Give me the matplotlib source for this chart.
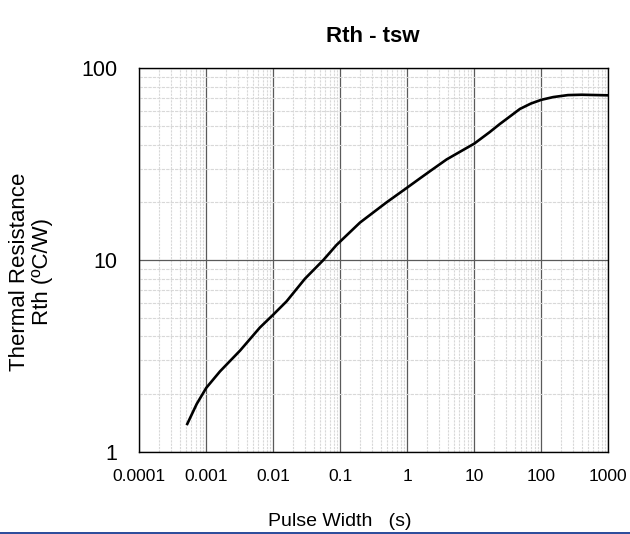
import matplotlib
matplotlib.use("Agg")
import matplotlib.pyplot as plt
from matplotlib.lines import Line2D
from matplotlib.ticker import LogLocator, NullFormatter, FixedLocator, FixedFormatter

plt.rcParams['font.family'] = ['Liberation Sans', 'DejaVu Sans']

pulse_width = [0.00052, 0.00072, 0.001, 0.0016, 0.0032, 0.0063, 0.01, 0.0158,
               0.0297, 0.0557, 0.088, 0.197, 0.49, 1, 1.55, 2.31, 3.87, 10,
               17, 24, 35, 48, 70, 100, 151, 250, 400, 1000]
rth = [1.40, 1.78, 2.16, 2.63, 3.38, 4.45, 5.2, 6.1,
       8.0, 10, 12.0, 15.7, 20, 23.9, 26.7, 29.5, 33.5, 40.5,
       46.5, 51.2, 56.5, 61.4, 65.5, 68.5, 70.8, 72.5, 72.8, 72.3]

x_ticks = [0.0001, 0.001, 0.01, 0.1, 1, 10, 100, 1000]
x_labels = ["0.0001", "0.001", "0.01", "0.1", "1", "10", "100", "1000"]
y_ticks = [1, 10, 100]
y_labels = ["1", "10", "100"]

fig = plt.figure(figsize=(6.3, 5.34), dpi=100)
ax = fig.add_axes([0.2211, 0.1536, 0.7444, 0.7185])

ax.plot(pulse_width, rth, color='black', lw=1.9, solid_joinstyle='round')
ax.set_xscale('log')
ax.set_yscale('log')
ax.set_xlim(0.0001, 1000)
ax.set_ylim(1, 100)

ax.xaxis.set_major_locator(FixedLocator(x_ticks))
ax.xaxis.set_major_formatter(FixedFormatter(x_labels))
ax.yaxis.set_major_locator(FixedLocator(y_ticks))
ax.yaxis.set_major_formatter(FixedFormatter(y_labels))
ax.xaxis.set_minor_locator(LogLocator(base=10, subs=range(2, 10), numticks=20))
ax.yaxis.set_minor_locator(LogLocator(base=10, subs=range(2, 10), numticks=20))
ax.xaxis.set_minor_formatter(NullFormatter())
ax.yaxis.set_minor_formatter(NullFormatter())

ax.grid(which='major', color='#5a5a5a', lw=0.9, ls='-')
ax.grid(which='minor', axis='x', color='#d8d8d8', lw=0.8, ls=(0, (2, 1)))
ax.grid(which='minor', axis='y', color='#d8d8d8', lw=0.8, ls=(0, (3, 1)))
ax.set_axisbelow(True)

ax.tick_params(which='both', length=0)
ax.tick_params(axis='x', labelsize=12.5, pad=12)
ax.tick_params(axis='y', labelsize=15.5, pad=16)
for s in ax.spines.values():
    s.set_color('black')
    s.set_linewidth(1.0)

fig.text(0.592, 0.921, "Rth - tsw", ha='center', va='baseline', fontsize=16, fontweight='bold')
fig.text(0.54, 0.015, "Pulse Width   (s)", ha='center', va='baseline', fontsize=14)
fig.text(0.049, 0.491, "Thermal Resistance\nRth (ºC/W)", ha='center', va='center',
         rotation=90, fontsize=16, linespacing=1.15)

fig.add_artist(Line2D([0, 1], [0.002, 0.002], transform=fig.transFigure,
                      color='#2a4a9a', lw=1.4))

fig.savefig("out.png", dpi=100)
